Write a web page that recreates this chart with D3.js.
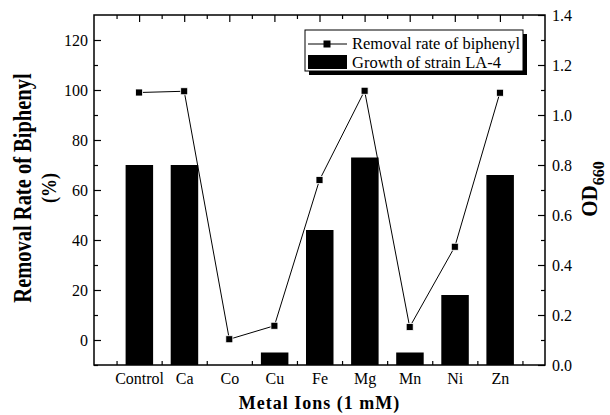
<!DOCTYPE html>
<html>
<head>
<meta charset="utf-8">
<script src="https://cdn.jsdelivr.net/npm/d3@7"></script>
<style>
  body { margin: 0; background: #fff; }
  text { font-family: "Liberation Serif", "DejaVu Serif", serif; fill: #000; }
</style>
</head>
<body>
<svg id="chart" width="610" height="415"></svg>
<script>
// data
var categories = ['Control', 'Ca', 'Co', 'Cu', 'Fe', 'Mg', 'Mn', 'Ni', 'Zn'];
var removalRate = [99, 99.5, 0.3, 5.7, 64, 99.7, 5.2, 37.3, 98.9];
var growthOD = [0.80, 0.80, 0, 0.05, 0.54, 0.83, 0.05, 0.28, 0.76];
var leftTicks = [0, 20, 40, 60, 80, 100, 120];
var rightTicks = [0, 0.2, 0.4, 0.6, 0.8, 1.0, 1.2, 1.4];

var svg = d3.select('#chart');
var pLeft = 94, pRight = 545, pTop = 15, pBottom = 365;

var x = d3.scaleLinear().domain([0, categories.length + 1]).range([pLeft, pRight]);
var yL = d3.scaleLinear().domain([-10, 130]).range([pBottom, pTop]);
var yR = d3.scaleLinear().domain([0, 1.4]).range([pBottom, pTop]);

// bars (right axis)
svg.append('g').selectAll('rect')
    .data(growthOD)
    .enter().append('rect')
    .attr('x', function (d, i) { return x(i + 1) - 13.5; })
    .attr('width', 27.5)
    .attr('y', function (d) { return yR(d); })
    .attr('height', function (d) { return pBottom - yR(d); })
    .style('fill', '#000');

// line (left axis)
var line = d3.line()
    .x(function (d, i) { return x(i + 1); })
    .y(function (d) { return yL(d); });
svg.append('path')
    .datum(removalRate)
    .attr('d', line)
    .style('fill', 'none')
    .style('stroke', '#000')
    .style('stroke-width', 1);
svg.append('g').selectAll('rect')
    .data(removalRate)
    .enter().append('rect')
    .attr('x', function (d, i) { return x(i + 1) - 3.5; })
    .attr('y', function (d) { return yL(d) - 3.5; })
    .attr('width', 7)
    .attr('height', 7)
    .style('fill', '#000')
    .style('stroke', '#fff')
    .style('stroke-width', 0.8);

// frame
svg.append('rect')
    .attr('x', pLeft).attr('y', pTop)
    .attr('width', pRight - pLeft).attr('height', pBottom - pTop)
    .style('fill', 'none').style('stroke', '#000').style('stroke-width', 1.5);

function styleAxis(g) {
    g.attr('font-family', '"Liberation Serif", serif').attr('font-size', 16);
    g.selectAll('.domain').remove();
    g.selectAll('line').style('stroke', '#000').style('stroke-width', 1.2);
    g.selectAll('text').style('font-size', '16px').style('font-family', '"Liberation Serif", serif');
}

// left axis, ticks inside
var gl = svg.append('g').attr('transform', 'translate(' + pLeft + ',0)');
gl.call(d3.axisLeft(yL).tickValues(leftTicks).tickSizeInner(-7).tickSizeOuter(0).tickPadding(6).tickFormat(d3.format('d')));
gl.append('g').call(d3.axisLeft(yL).tickValues(d3.range(-10, 130, 20)).tickSize(-4).tickFormat(''));
gl.call(styleAxis);

// right axis
var gr = svg.append('g').attr('transform', 'translate(' + pRight + ',0)');
gr.call(d3.axisRight(yR).tickValues(rightTicks).tickSizeInner(-7).tickSizeOuter(0).tickPadding(7).tickFormat(d3.format('.1f')));
gr.append('g').call(d3.axisRight(yR).tickValues([0.1, 0.3, 0.5, 0.7, 0.9, 1.1, 1.3]).tickSize(-4).tickFormat(''));
gr.call(styleAxis);

// bottom axis
var gb = svg.append('g').attr('transform', 'translate(0,' + pBottom + ')');
gb.call(d3.axisBottom(x).tickValues(d3.range(1, categories.length + 1)).tickSizeInner(0).tickSizeOuter(0).tickPadding(8)
    .tickFormat(function (d) { return categories[d - 1]; }));
gb.append('g').call(d3.axisBottom(x).tickValues(d3.range(0.5, categories.length + 1, 1)).tickSize(-4).tickFormat(''));
gb.call(styleAxis);

// top axis
var gt = svg.append('g').attr('transform', 'translate(0,' + pTop + ')');
gt.call(d3.axisTop(x).tickValues(d3.range(1, categories.length + 1)).tickSize(-7).tickFormat(''));
gt.append('g').call(d3.axisTop(x).tickValues(d3.range(0.5, categories.length + 1, 1)).tickSize(-4).tickFormat(''));
gt.call(styleAxis);

// axis titles (rotated text is taller in the original, hence the scale)
svg.append('text')
    .attr('transform', 'translate(31,188) rotate(-90) scale(1,1.25)')
    .attr('text-anchor', 'middle')
    .style('font-size', '20.5px').style('font-weight', 'bold')
    .text('Removal Rate of Biphenyl');
svg.append('text')
    .attr('transform', 'translate(56,188) rotate(-90) scale(1,1.2)')
    .attr('text-anchor', 'middle')
    .style('font-size', '18px').style('font-weight', 'bold')
    .text('(%)');

var od = svg.append('text')
    .attr('transform', 'translate(597,189) rotate(-90) scale(1,1.1)')
    .attr('text-anchor', 'middle')
    .style('font-size', '21px').style('font-weight', 'bold');
od.append('tspan').text('OD');
od.append('tspan').attr('dy', 6).style('font-size', '16px').text('660');

svg.append('text')
    .attr('x', (pLeft + pRight) / 2)
    .attr('y', 409)
    .attr('text-anchor', 'middle')
    .style('font-size', '18px').style('font-weight', 'bold')
    .style('letter-spacing', '1px')
    .text('Metal Ions (1 mM)');

// legend
var lg = svg.append('g').attr('transform', 'translate(305,30)');
lg.append('rect').attr('x', 4).attr('y', 4).attr('width', 218).attr('height', 41).style('fill', '#000');
lg.append('rect').attr('x', 0).attr('y', 0).attr('width', 218).attr('height', 41)
    .style('fill', '#fff').style('stroke', '#000').style('stroke-width', 1);
lg.append('line').attr('x1', 3).attr('x2', 42).attr('y1', 14).attr('y2', 14).style('stroke', '#000');
lg.append('rect').attr('x', 18.5).attr('y', 10.5).attr('width', 7).attr('height', 7).style('fill', '#000');
lg.append('text').attr('x', 47).attr('y', 19).style('font-size', '16.5px').text('Removal rate of biphenyl');
lg.append('rect').attr('x', 3).attr('y', 25).attr('width', 39).attr('height', 14).style('fill', '#000');
lg.append('text').attr('x', 47).attr('y', 38).style('font-size', '16.5px').text('Growth of strain LA-4');
</script>
</body>
</html>
